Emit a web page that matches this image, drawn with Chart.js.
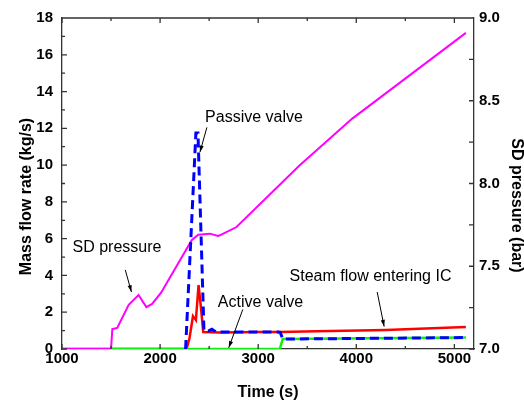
<!DOCTYPE html>
<html>
<head>
<meta charset="utf-8">
<script src="https://cdn.jsdelivr.net/npm/chart.js@4/dist/chart.umd.min.js"></script>
<style>
  body { margin: 0; background: #fff; }
  canvas { display: block; }
</style>
</head>
<body>
<canvas id="flowChart" width="524" height="402"></canvas>
<script>
// x ticks and axis limits
const timeTicks = [1000, 2000, 3000, 4000, 5000];
const flowTicks = [0, 2, 4, 6, 8, 10, 12, 14, 16, 18];
const pressTicks = [7.0, 7.5, 8.0, 8.5, 9.0];

// Passive valve (kg/s)
const passiveTime = [2260, 2365, 2386, 2447, 2490, 2528, 2570, 3200, 3225, 3250, 5117];
const passiveFlow = [0, 11.75, 11.75, 1.0, 0.98, 1.08, 0.93, 0.92, 0.9, 0.54, 0.62];

// Active valve (kg/s)
const activeTime = [1000, 3220, 3250, 5117];
const activeFlow = [0, 0, 0.54, 0.62];

// Steam flow entering IC (kg/s)
const steamTime = [1000, 2270, 2300, 2335, 2365, 2392, 2416, 2440, 2600, 3000, 3220, 3600, 4300, 5117];
const steamFlow = [0, 0, 0.6, 1.79, 1.57, 3.47, 2.28, 0.92, 0.9, 0.92, 0.92, 0.97, 1.04, 1.19];

// SD pressure (bar)
const sdTime = [1000, 1500, 1513, 1563, 1680, 1780, 1860, 1919, 2010, 2322, 2389, 2508, 2592, 2609, 2779, 3421, 3959, 5117];
const sdPress = [7.0, 7.0, 7.12, 7.127, 7.267, 7.326, 7.253, 7.272, 7.34, 7.657, 7.691, 7.697, 7.683, 7.687, 7.737, 8.109, 8.392, 8.91];

const pts = (xs, ys) => xs.map((x, i) => ({x: x, y: ys[i]}));

const fontFam = '"Liberation Sans", Arial, sans-serif';
const tickFont = {family: fontFam, size: 15, weight: 'bold'};
const titleFont = {family: fontFam, size: 16, weight: 'bold'};

// labels with arrows, in data units of x / left y
const notes = [
  {text: 'Passive valve', x: 2459, y: 12.6, from: [2477, 12.05], to: [2406, 10.7]},
  {text: 'SD pressure', x: 1107, y: 5.5, from: [1645, 4.3], to: [1708, 3.1]},
  {text: 'Active valve', x: 2589, y: 2.55, from: [2843, 2.15], to: [2700, 0.07]},
  {text: 'Steam flow entering IC', x: 3320, y: 3.95, from: [4213, 3.1], to: [4284, 1.22]}
];

const frameTicks = {
  id: 'frameTicks',
  afterDatasetsDraw(chart) {
    const {ctx, chartArea: a, scales} = chart;
    const x = scales.x, y = scales.y, y2 = scales.y2;
    ctx.save();
    ctx.strokeStyle = '#333';
    ctx.lineWidth = 1.3;
    ctx.beginPath();
    ctx.moveTo(a.left, a.top);
    ctx.lineTo(a.right, a.top);
    for (let t = 1000; t <= 5000; t += 500) {
      const px = x.getPixelForValue(t);
      const len = t % 1000 === 0 ? 5 : 3;
      ctx.moveTo(px, a.bottom); ctx.lineTo(px, a.bottom - len);
      ctx.moveTo(px, a.top); ctx.lineTo(px, a.top + len);
    }
    for (let v = 0; v <= 18; v += 1) {
      const py = y.getPixelForValue(v);
      ctx.moveTo(a.left, py); ctx.lineTo(a.left + (v % 2 === 0 ? 5 : 3), py);
    }
    for (let p = 7; p <= 9.001; p += 0.25) {
      const py = y2.getPixelForValue(p);
      ctx.moveTo(a.right, py); ctx.lineTo(a.right - 5, py);
    }
    ctx.stroke();
    ctx.restore();
  },
  afterDraw(chart) {
    const {ctx, chartArea: a, scales} = chart;
    const x = scales.x, y = scales.y;
    ctx.save();
    // y axis titles (sit a bit below the middle in the original)
    ctx.font = 'bold 16px ' + fontFam;
    ctx.fillStyle = '#000';
    ctx.textAlign = 'center';
    ctx.textBaseline = 'middle';
    const mid = (a.top + a.bottom) / 2;
    ctx.save();
    ctx.translate(27, mid + 13);
    ctx.rotate(-Math.PI / 2);
    ctx.fillText('Mass flow rate (kg/s)', 0, 0);
    ctx.restore();
    ctx.save();
    ctx.translate(516, mid + 22);
    ctx.rotate(Math.PI / 2);
    ctx.fillText('SD pressure (bar)', 0, 0);
    ctx.restore();

    ctx.font = '16px ' + fontFam;
    ctx.textAlign = 'left';
    ctx.strokeStyle = '#000';
    ctx.lineWidth = 1;
    notes.forEach(n => {
      ctx.fillText(n.text, x.getPixelForValue(n.x), y.getPixelForValue(n.y));
      const x1 = x.getPixelForValue(n.from[0]), y1 = y.getPixelForValue(n.from[1]);
      const x2 = x.getPixelForValue(n.to[0]), y2p = y.getPixelForValue(n.to[1]);
      ctx.beginPath();
      ctx.moveTo(x1, y1);
      ctx.lineTo(x2, y2p);
      ctx.stroke();
      const ang = Math.atan2(y2p - y1, x2 - x1);
      ctx.beginPath();
      ctx.moveTo(x2, y2p);
      ctx.lineTo(x2 - 7 * Math.cos(ang - 0.3), y2p - 7 * Math.sin(ang - 0.3));
      ctx.lineTo(x2 - 7 * Math.cos(ang + 0.3), y2p - 7 * Math.sin(ang + 0.3));
      ctx.closePath();
      ctx.fill();
    });
    ctx.restore();
  }
};

const ctx = document.getElementById('flowChart').getContext('2d');
const flowChart = new Chart(ctx, {
    type: 'line',
    data: {
        datasets: [{
            label: 'Passive valve',
            data: pts(passiveTime, passiveFlow),
            borderColor: '#0000ff',
            borderWidth: 3,
            borderDash: [9, 5],
            yAxisID: 'y'
        }, {
            label: 'SD pressure',
            data: pts(sdTime, sdPress),
            borderColor: '#ff00ff',
            borderWidth: 2,
            yAxisID: 'y2'
        }, {
            label: 'Active valve',
            data: pts(activeTime, activeFlow),
            borderColor: '#11ee11',
            borderWidth: 2.5,
            yAxisID: 'y'
        }, {
            label: 'Steam flow entering IC',
            data: pts(steamTime, steamFlow),
            borderColor: '#ff0000',
            borderWidth: 2.5,
            yAxisID: 'y'
        }]
    },
    options: {
        responsive: false,
        animation: false,
        devicePixelRatio: 1,
        layout: {padding: {top: 17, left: 0, right: 0, bottom: 0}},
        elements: {point: {radius: 0}, line: {tension: 0}},
        plugins: {legend: {display: false}, tooltip: {enabled: false}},
        scales: {
            x: {
                type: 'linear',
                min: 1000,
                max: 5200,
                afterBuildTicks: s => { s.ticks = timeTicks.map(v => ({value: v})); },
                afterFit: s => { s.height = 53; },
                grid: {display: false, drawTicks: false},
                border: {display: true, color: '#333', width: 1.3},
                ticks: {font: tickFont, color: '#000', padding: 1, maxRotation: 0, callback: v => String(v)},
                title: {display: true, text: 'Time (s)', font: titleFont, color: '#000', padding: {top: 0, bottom: 0}}
            },
            y: {
                position: 'left',
                min: 0,
                max: 18,
                afterBuildTicks: s => { s.ticks = flowTicks.map(v => ({value: v})); },
                afterFit: s => { s.width = 62; },
                grid: {display: false, drawTicks: false},
                border: {display: true, color: '#333', width: 1.3},
                ticks: {font: tickFont, color: '#000', padding: 9, callback: v => String(v)}
            },
            y2: {
                position: 'right',
                min: 7,
                max: 9,
                afterBuildTicks: s => { s.ticks = pressTicks.map(v => ({value: v})); },
                afterFit: s => { s.width = 50; },
                grid: {display: false, drawTicks: false},
                border: {display: true, color: '#333', width: 1.3},
                ticks: {font: tickFont, color: '#000', padding: 5, callback: v => v.toFixed(1)}
            }
        }
    },
    plugins: [frameTicks]
});
</script>
</body>
</html>
